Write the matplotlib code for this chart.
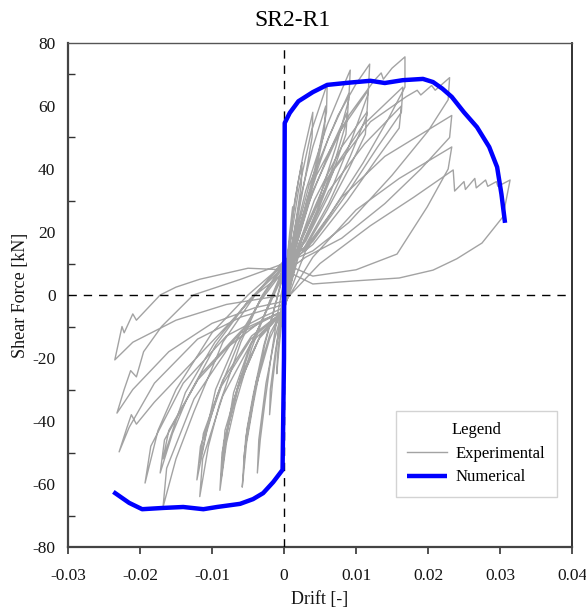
import matplotlib
matplotlib.use("Agg")
import matplotlib.pyplot as plt
import numpy as np

# ---------------- data ----------------
title = "SR2-R1"
x_ticks = [-0.03, -0.02, -0.01, 0, 0.01, 0.02, 0.03, 0.04]
x_tick_labels = ["-0.03", "-0.02", "-0.01", "0", "0.01", "0.02", "0.03", "0.04"]
y_ticks = [-80, -60, -40, -20, 0, 20, 40, 60, 80]
y_tick_labels = ["-80", "-60", "-40", "-20", "0", "20", "40", "60", "80"]
y_minor = [-70, -50, -30, -10, 10, 30, 50, 70]

# Numerical (backbone) curve
num_drift = [-0.0237, -0.0215, -0.0197, -0.0168, -0.0140, -0.0112, -0.0093, -0.0061,
             -0.0043, -0.0029, -0.0015, -0.0002, 0.0, 0.0001, 0.0008, 0.0020, 0.0040,
             0.0060, 0.0090, 0.0120, 0.0140, 0.0165, 0.0193, 0.0207, 0.0220, 0.0233,
             0.0250, 0.0268, 0.0285, 0.0296, 0.0302, 0.0307]
num_force = [-62.5, -66.0, -68.0, -67.6, -67.3, -68.0, -67.3, -66.3,
             -64.8, -62.9, -59.4, -55.5, -20.0, 54.6, 57.8, 61.5, 64.4,
             66.7, 67.4, 68.0, 67.3, 68.2, 68.6, 67.6, 65.5, 62.9,
             58.0, 53.3, 47.0, 40.6, 32.0, 22.9]

# Experimental hysteresis, one cycle per list (drift, force)
cyc01_d = [0, 0.0004, 0.0008, 0.0012, 0.0011, 0.0006, 0.0001, -0.0003, -0.0007, -0.0010, -0.0009, -0.0005, 0]
cyc01_f = [-3, 10, 20, 28, 22, 10, 2, -8, -17, -25, -19, -10, -2]
cyc02_d = [0, 0.0005, 0.0012, 0.0019, 0.0025, 0.0024, 0.0017, 0.0008, 0, -0.0005, -0.0010, -0.0016, -0.0020, -0.0019, -0.0012, -0.0005, 0]
cyc02_f = [-2, 12, 25, 35, 42, 35, 24, 12, 4, -6, -16, -28, -38, -30, -18, -8, -1]
cyc03_d = [0, 0.0006, 0.0015, 0.0027, 0.0040, 0.0039, 0.0030, 0.0017, 0.0006, 0, -0.0008, -0.0017, -0.0027, -0.0033, -0.0037, -0.0035, -0.0025, -0.0013, 0]
cyc03_f = [-1, 14, 30, 45, 58, 50, 38, 22, 10, 5, -5, -18, -35, -46, -56.5, -46, -28, -14, -3]
cyc04_d = [0, 0.0007, 0.0020, 0.0038, 0.0060, 0.0059, 0.0047, 0.0030, 0.0012, 0, -0.0012, -0.0027, -0.0043, -0.0052, -0.0058, -0.0055, -0.0040, -0.0020, 0]
cyc04_f = [-3, 14, 33, 52, 67, 58, 44, 28, 14, 8, -3, -16, -35, -47, -61, -50, -30, -14, -4]
cyc05_d = [0, 0.0008, 0.0022, 0.0040, 0.0058, 0.0056, 0.0044, 0.0028, 0.0011, 0, -0.0013, -0.0028, -0.0043, -0.0051, -0.0056, -0.0053, -0.0038, -0.0019, 0]
cyc05_f = [-4, 12, 30, 47, 60, 52, 39, 25, 12, 7, -4, -16, -32, -42, -54, -45, -27, -12, -4]
cyc06_d = [0, 0.0010, 0.0030, 0.0060, 0.0080, 0.0092, 0.0090, 0.0072, 0.0048, 0.0020, 0, -0.0020, -0.0045, -0.0068, -0.0080, -0.0089, -0.0086, -0.0065, -0.0035, 0]
cyc06_f = [-4, 14, 33, 54, 65, 71.4, 62, 47, 30, 15, 9, -2, -17, -35, -47, -62, -50, -30, -14, -5]
cyc07_d = [0, 0.0012, 0.0033, 0.0062, 0.0090, 0.0088, 0.0070, 0.0046, 0.0019, 0, -0.0021, -0.0046, -0.0068, -0.0079, -0.0087, -0.0084, -0.0062, -0.0033, 0]
cyc07_f = [-5, 13, 31, 50, 64, 56, 42, 27, 13, 8, -3, -16, -32, -43, -57.8, -47, -28, -13, -5]
cyc08_d = [0, 0.0012, 0.0035, 0.0075, 0.0100, 0.0119, 0.0117, 0.0095, 0.0065, 0.0030, 0, -0.0030, -0.0060, -0.0090, -0.0105, -0.0117, -0.0113, -0.0085, -0.0045, 0]
cyc08_f = [-5, 15, 35, 57, 67, 73.3, 64, 50, 33, 17, 10, 0, -15, -35, -48, -64, -52, -32, -15, -5]
cyc09_d = [0, 0.0015, 0.0040, 0.0078, 0.0117, 0.0115, 0.0092, 0.0062, 0.0028, 0, -0.0032, -0.0063, -0.0093, -0.0108, -0.0121, -0.0116, -0.0087, -0.0046, 0]
cyc09_f = [-5, 14, 33, 52, 65, 57, 44, 29, 15, 9, -1, -15, -32, -44, -58.7, -48, -29, -14, -5]
cyc10_d = [0, 0.0015, 0.0045, 0.0090, 0.0125, 0.0135, 0.0138, 0.0150, 0.0168, 0.0168, 0.0145, 0.0110, 0.0065, 0.0030, 0,
           -0.0040, -0.0085, -0.0125, -0.0150, -0.0168, -0.0163, -0.0125, -0.0075, -0.0030, 0]
cyc10_f = [-5, 17, 38, 57, 68, 70.5, 68.5, 72, 75.6, 66, 56, 42, 26, 15, 11,
           0, -15, -37, -52, -67.3, -55, -33, -16, -8, -5]
cyc11_d = [0, 0.0020, 0.0060, 0.0110, 0.0165, 0.0163, 0.0130, 0.0090, 0.0040, 0, -0.0050, -0.0095, -0.0135, -0.0155, -0.0172, -0.0166, -0.0120, -0.0060, 0]
cyc11_f = [-5, 16, 37, 54, 66, 58, 47, 33, 17, 10, -2, -16, -33, -44, -56.5, -46, -27, -12, -5]
cyc12_d = [0, 0.0025, 0.0070, 0.0120, 0.0170, 0.0185, 0.0190, 0.0205, 0.0210, 0.0230, 0.0228, 0.0200, 0.0150, 0.0090, 0.0040, 0,
           -0.0050, -0.0100, -0.0150, -0.0175, -0.0193, -0.0185, -0.0140, -0.0080, -0.0030, 0]
cyc12_f = [-5, 18, 40, 55, 63, 65, 63.5, 66.5, 65, 69, 62, 52, 38, 23, 14, 10,
           0, -12, -30, -43, -59.7, -48, -28, -13, -7, -4]
cyc13_d = [0, 0.0030, 0.0080, 0.0140, 0.0190, 0.0233, 0.0230, 0.0190, 0.0140, 0.0080, 0.0030, 0,
           -0.0040, -0.0080, -0.0130, -0.0180, -0.0205, -0.0212, -0.0218, -0.0229, -0.0215, -0.0180, -0.0120, -0.0060, 0]
cyc13_f = [-4, 14, 31, 44, 51, 57, 50, 40, 29, 18, 12, 7,
           0, -10, -22, -34, -41, -38, -42, -49.8, -42, -28, -14, -7, -3]
cyc14_d = [0, 0.0040, 0.0100, 0.0160, 0.0233, 0.0228, 0.0199, 0.0157, 0.0100, 0.0040, 0,
           -0.0060, -0.0126, -0.0170, -0.0195, -0.0205, -0.0213, -0.0222, -0.0232, -0.0210, -0.0160, -0.0100, -0.0040, 0]
cyc14_f = [-3, 12, 27, 37, 47, 40, 28, 13, 8, 6, 10,
           5, 0, -10, -18, -26, -24, -30, -37.5, -30, -18, -9, -4, -2]
cyc15_d = [0, 0.0050, 0.0120, 0.0180, 0.0235, 0.0237, 0.0250, 0.0252, 0.0265, 0.0267, 0.0280, 0.0283, 0.0295, 0.0297, 0.0314,
           0.0304, 0.0275, 0.0240, 0.0207, 0.0160, 0.0100, 0.0040, 0, -0.0050, -0.0117, -0.0150, -0.0172, -0.0205, -0.0210, -0.0222, -0.0225, -0.0235,
           -0.0210, -0.0150, -0.0080, 0]
cyc15_f = [-2, 10, 22, 31, 39.7, 33, 36, 33.5, 37, 34, 36.5, 34.5, 36, 34.5, 36.5,
           24.8, 16.5, 11.5, 7.9, 5.4, 4.5, 3.5, 8, 8.5, 5, 2.5, 0, -8, -6, -12, -10, -20.6,
           -15, -8, -3, 0]
cyc16_d = [0, 0.0012, 0.0034, 0.0064, 0.0088, 0.0086, 0.0068, 0.0044, 0.0018, 0, -0.0022, -0.0047, -0.0070, -0.0085, -0.0082, -0.0060, -0.0031, 0]
cyc16_f = [-5, 12, 29, 46, 58, 51, 39, 25, 12, 7, -4, -16, -31, -52, -43, -26, -12, -5]
cyc17_d = [0, 0.0016, 0.0042, 0.0080, 0.0115, 0.0113, 0.0090, 0.0060, 0.0027, 0, -0.0033, -0.0065, -0.0095, -0.0117, -0.0112, -0.0085, -0.0045, 0]
cyc17_f = [-5, 13, 30, 47, 58, 51, 40, 27, 14, 8, -2, -14, -30, -53, -44, -27, -13, -5]
cyc18_d = [0, 0.0022, 0.0062, 0.0112, 0.0163, 0.0160, 0.0128, 0.0088, 0.0040, 0, -0.0050, -0.0096, -0.0137, -0.0168, -0.0160, -0.0115, -0.0058, 0]
cyc18_f = [-5, 14, 33, 48, 60, 53, 43, 30, 16, 9, -2, -15, -31, -52, -43, -25, -11, -5]

exp_cycles = [(cyc01_d, cyc01_f), (cyc02_d, cyc02_f), (cyc03_d, cyc03_f), (cyc04_d, cyc04_f),
              (cyc05_d, cyc05_f), (cyc06_d, cyc06_f), (cyc07_d, cyc07_f), (cyc16_d, cyc16_f),
              (cyc08_d, cyc08_f), (cyc09_d, cyc09_f), (cyc17_d, cyc17_f), (cyc10_d, cyc10_f),
              (cyc11_d, cyc11_f), (cyc18_d, cyc18_f), (cyc12_d, cyc12_f), (cyc13_d, cyc13_f),
              (cyc14_d, cyc14_f), (cyc15_d, cyc15_f)]

# ---------------- figure ----------------
serif = ["Liberation Serif", "DejaVu Serif"]
plt.rcParams["font.family"] = serif

fig = plt.figure(figsize=(5.86, 6.07), dpi=100)
ax = fig.add_axes([68 / 586, 1 - 547 / 607, 504 / 586, 504 / 607])

exp_d = []
exp_f = []
for d, f in exp_cycles:
    exp_d.extend(d)
    exp_f.extend(f)
ax.plot(exp_d, exp_f, color="#a3a3a3", lw=1.0, label="Experimental", zorder=2,
        solid_joinstyle="round")

ax.plot(num_drift, num_force, color="#0000ff", lw=3.2, label="Numerical", zorder=4,
        solid_capstyle="butt")

ax.axhline(0, color="black", lw=1.0, ls=(0, (6, 5)), zorder=3)
ax.axvline(0, color="black", lw=1.0, ls=(0, (6, 5)), zorder=3)

ax.set_xlim(-0.03, 0.04)
ax.set_ylim(-80, 80)
ax.set_xticks(x_ticks)
ax.set_xticklabels(x_tick_labels)
ax.set_yticks(y_ticks)
ax.set_yticklabels(y_tick_labels)
ax.set_yticks(y_minor, minor=True)
ax.tick_params(axis="x", which="major", direction="out", length=5, width=1.2,
               labelsize=12.5, pad=10, colors="#333333", labelcolor="#151515")
ax.tick_params(axis="y", which="major", length=0, labelsize=12.5, pad=9,
               labelcolor="#151515")
ax.tick_params(axis="y", which="minor", direction="in", length=5, width=1.0,
               colors="#333333")

for side in ["left", "bottom"]:
    ax.spines[side].set_linewidth(1.6)
    ax.spines[side].set_color("#444444")
ax.spines["right"].set_linewidth(1.3)
ax.spines["right"].set_color("#222222")
ax.spines["top"].set_linewidth(1.0)
ax.spines["top"].set_color("#555555")

ax.set_xlabel("Drift [-]", fontsize=13, labelpad=5, color="#151515")
ax.set_ylabel("Shear Force [kN]", fontsize=13, color="#151515")
ax.yaxis.set_label_coords((29 - 68) / 504, 0.5)
fig.text(0.5, 1 - 21 / 607, title, fontsize=17, ha="center", va="center")

leg = ax.legend(title="Legend", loc="lower right", bbox_to_anchor=(0.97, 0.099),
                borderaxespad=0.0,
                frameon=True, fancybox=False, edgecolor="#c8c8c8", fontsize=12,
                title_fontsize=12, handlelength=2.4, borderpad=0.7, labelspacing=0.45,
                handletextpad=0.5)
leg.get_frame().set_linewidth(1.0)

fig.savefig("out.png", dpi=100)
